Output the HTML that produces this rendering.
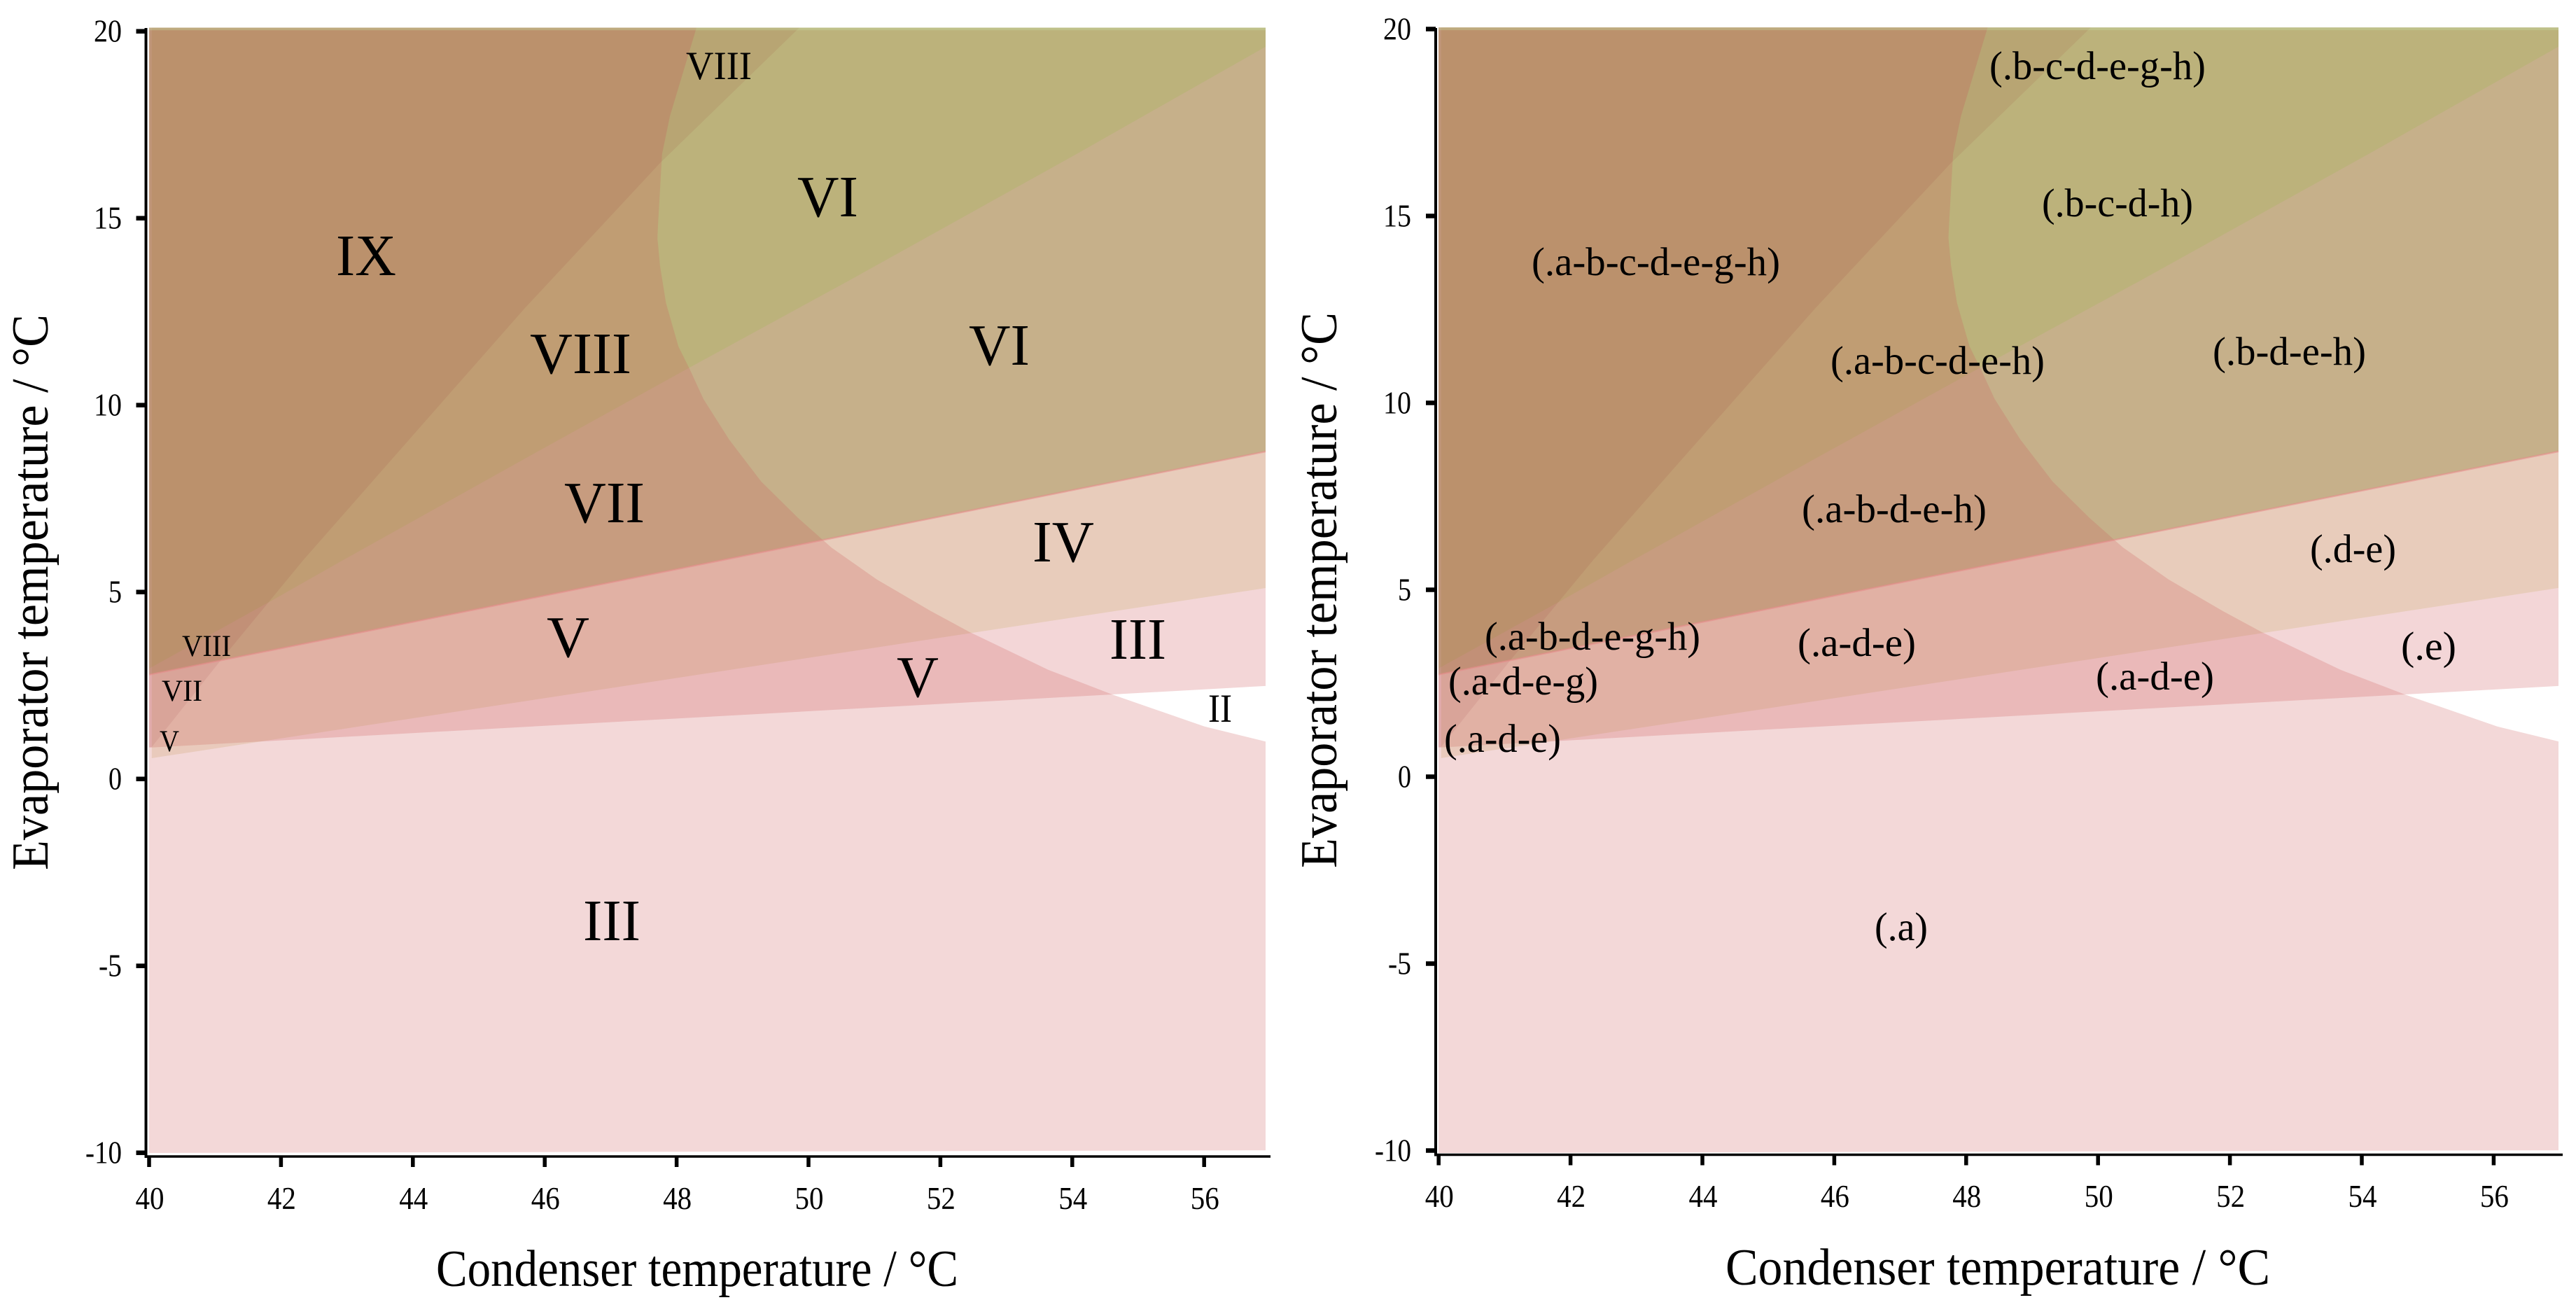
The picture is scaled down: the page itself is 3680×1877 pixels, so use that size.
<!DOCTYPE html>
<html lang="en">
<head>
<meta charset="utf-8">
<title>Evaporator and condenser temperature region maps</title>
<style>
  html,body{margin:0;padding:0;background:#fff;}
  svg{display:block;}
  text{font-family:"Liberation Serif","Times New Roman",serif;fill:#000;}
  .tick-label{font-size:45px;}
  .axis-title{font-size:74px;}
  .big{font-size:84px;}
  .mid{font-size:57px;}
  .small{font-size:43px;}
  .code{font-size:57px;}
  .axis-line{stroke:#000;fill:none;}
  .tick{stroke:#000;}
  .layer-a{fill:#cc5a5c;fill-opacity:.24;}
  .layer-e{fill:#cf5b5f;fill-opacity:.25;}
  .layer-d{fill:#bca54b;fill-opacity:.2;}
  .layer-b{fill:#77721b;fill-opacity:.3;}
  .layer-c{fill:#6cc500;fill-opacity:.1;}
  .layer-g{fill:#942328;fill-opacity:.09;}
  .edge-b{stroke:#e88a8a;stroke-opacity:.55;stroke-width:2.5;fill:none;}
  .top-band{fill:#c8e6aa;fill-opacity:.3;}
</style>
</head>
<body>
<svg xmlns="http://www.w3.org/2000/svg" width="3680" height="1877" viewBox="0 0 3680 1877">
  <rect x="0" y="0" width="3680" height="1877" fill="#fff"/>

  <g id="left-panel">
    <g id="left-marks"></g>
    <g id="left-axes"></g>
    <text class="axis-title" x="623" y="1837" textLength="746" lengthAdjust="spacingAndGlyphs">Condenser temperature / °C</text>
    <text class="axis-title" transform="translate(68,1243) rotate(-90)" x="0" y="0" textLength="794" lengthAdjust="spacingAndGlyphs">Evaporator temperature / °C</text>

    <text class="big" x="480" y="393" textLength="86" lengthAdjust="spacingAndGlyphs">IX</text>
    <text class="big" x="757" y="533" textLength="145" lengthAdjust="spacingAndGlyphs">VIII</text>
    <text class="big" x="1139" y="309" textLength="87" lengthAdjust="spacingAndGlyphs">VI</text>
    <text class="big" x="1384" y="521" textLength="87" lengthAdjust="spacingAndGlyphs">VI</text>
    <text class="big" x="806" y="746" textLength="115" lengthAdjust="spacingAndGlyphs">VII</text>
    <text class="big" x="1475" y="802" textLength="88" lengthAdjust="spacingAndGlyphs">IV</text>
    <text class="big" x="781" y="938" textLength="61" lengthAdjust="spacingAndGlyphs">V</text>
    <text class="big" x="1281" y="995" textLength="60" lengthAdjust="spacingAndGlyphs">V</text>
    <text class="big" x="1585" y="941" textLength="81" lengthAdjust="spacingAndGlyphs">III</text>
    <text class="big" x="833" y="1343" textLength="82" lengthAdjust="spacingAndGlyphs">III</text>
    <text class="mid" x="1726" y="1031" textLength="34" lengthAdjust="spacingAndGlyphs">II</text>
    <text class="mid" x="980" y="113" textLength="94" lengthAdjust="spacingAndGlyphs">VIII</text>
    <text class="small" x="260" y="937" textLength="70" lengthAdjust="spacingAndGlyphs">VIII</text>
    <text class="small" x="231" y="1001" textLength="58" lengthAdjust="spacingAndGlyphs">VII</text>
    <text class="small" x="228" y="1073" textLength="28" lengthAdjust="spacingAndGlyphs">V</text>
  </g>

  <g id="right-panel">
    <g id="right-marks"></g>
    <g id="right-axes"></g>
    <text class="axis-title" x="2465" y="1835" textLength="778" lengthAdjust="spacingAndGlyphs">Condenser temperature / °C</text>
    <text class="axis-title" transform="translate(1909,1240) rotate(-90)" x="0" y="0" textLength="794" lengthAdjust="spacingAndGlyphs">Evaporator temperature / °C</text>

    <text class="code" x="2188" y="393" textLength="355" lengthAdjust="spacingAndGlyphs">(.a-b-c-d-e-g-h)</text>
    <text class="code" x="2615" y="534" textLength="306" lengthAdjust="spacingAndGlyphs">(.a-b-c-d-e-h)</text>
    <text class="code" x="2842" y="113" textLength="309" lengthAdjust="spacingAndGlyphs">(.b-c-d-e-g-h)</text>
    <text class="code" x="2917" y="309" textLength="216" lengthAdjust="spacingAndGlyphs">(.b-c-d-h)</text>
    <text class="code" x="3161" y="521" textLength="219" lengthAdjust="spacingAndGlyphs">(.b-d-e-h)</text>
    <text class="code" x="2574" y="746" textLength="264" lengthAdjust="spacingAndGlyphs">(.a-b-d-e-h)</text>
    <text class="code" x="3300" y="803" textLength="123" lengthAdjust="spacingAndGlyphs">(.d-e)</text>
    <text class="code" x="3430" y="942" textLength="79" lengthAdjust="spacingAndGlyphs">(.e)</text>
    <text class="code" x="2568" y="937" textLength="169" lengthAdjust="spacingAndGlyphs">(.a-d-e)</text>
    <text class="code" x="2994" y="985" textLength="169" lengthAdjust="spacingAndGlyphs">(.a-d-e)</text>
    <text class="code" x="2121" y="928" textLength="308" lengthAdjust="spacingAndGlyphs">(.a-b-d-e-g-h)</text>
    <text class="code" x="2069" y="992" textLength="214" lengthAdjust="spacingAndGlyphs">(.a-d-e-g)</text>
    <text class="code" x="2063" y="1074" textLength="167" lengthAdjust="spacingAndGlyphs">(.a-d-e)</text>
    <text class="code" x="2678" y="1343" textLength="76" lengthAdjust="spacingAndGlyphs">(.a)</text>
  </g>
</svg>

<script>
// Axis tick values
const xTickValues = [40, 42, 44, 46, 48, 50, 52, 54, 56];
const yTickValues = [-10, -5, 0, 5, 10, 15, 20];
const yTickLabels = ['-10', '-5', '0', '5', '10', '15', '20'];
const xTickLabels = ['40', '42', '44', '46', '48', '50', '52', '54', '56'];

// Region boundaries in degrees C (condenser temperature, evaporator temperature)
const boundaryA_x = [57, 56.07, 54.67, 53.69, 52.49, 51.90, 51.08, 50.39, 50.24, 49.88, 49.32, 48.83, 48.44, 48.23, 48.06, 47.87, 47.78, 47.74, 47.75, 47.81, 47.93, 48.335];
const boundaryA_y = [0.97, 1.37, 2.22, 2.88, 3.89, 4.45, 5.29, 6.14, 6.37, 6.93, 7.90, 9.02, 10.10, 10.90, 11.50, 12.66, 13.65, 14.39, 14.77, 16.63, 17.64, 20];
const boundaryE_x = [40, 57];
const boundaryE_y = [0.806, 2.449];
const boundaryD_x = [40.04, 57];
const boundaryD_y = [0.526, 5.06];
const boundaryB_x = [40, 57];
const boundaryB_y = [2.75, 8.70];
const boundaryC_x = [40, 41.88, 42.96, 44.74, 45.72, 48.23, 50.67, 54.12, 57];
const boundaryC_y = [2.915, 4.74, 5.81, 7.55, 8.51, 10.94, 13.27, 16.63, 19.49];
const boundaryG_x = [40.04, 41.06, 42.35, 44.05, 45.72, 47.78, 49.90];
const boundaryG_y = [0.825, 3.07, 5.81, 9.20, 12.52, 16.39, 20];

// Domain of the plotted map
const domainXMin = 40;
const domainXMax = 57;
const domainYMin = -10;
const domainYTop = 20;
const domainYBottomRight = -9.93;
const topBandY = 19.93;

const SVGNS = 'http://www.w3.org/2000/svg';

function makeFillScales(cfg) {
  return {
    x: function (v) { return cfg.fillLeft + (v - domainXMin) * (cfg.fillRight - cfg.fillLeft) / (domainXMax - domainXMin); },
    y: function (v) { return cfg.fillBottom - (v - domainYMin) * (cfg.fillBottom - cfg.fillTop) / (domainYTop - domainYMin); }
  };
}

function pointsFrom(xs, ys, sx, sy) {
  return xs.map(function (x, i) { return sx(x).toFixed(1) + ',' + sy(ys[i]).toFixed(1); });
}

function addLayer(parent, cls, pts, name) {
  const el = document.createElementNS(SVGNS, 'polygon');
  el.setAttribute('class', cls);
  el.setAttribute('points', pts.join(' '));
  
  
  parent.appendChild(el);
}

function drawMarks(parent, cfg) {
  const s = makeFillScales(cfg);
  const fx = s.x, fy = s.y;
  const corner = function (x, y) { return fx(x).toFixed(1) + ',' + fy(y).toFixed(1); };

  addLayer(parent, 'layer-e',
    pointsFrom(boundaryE_x, boundaryE_y, fx, fy)
      .concat([corner(domainXMax, domainYTop), corner(domainXMin, domainYTop)]),
    cfg.prefix + '-region-e');

  addLayer(parent, 'layer-d',
    pointsFrom(boundaryD_x, boundaryD_y, fx, fy)
      .concat([corner(domainXMax, domainYTop), corner(boundaryD_x[0], domainYTop)]),
    cfg.prefix + '-region-d');

  addLayer(parent, 'layer-b',
    pointsFrom(boundaryB_x, boundaryB_y, fx, fy)
      .concat([corner(domainXMax, domainYTop), corner(domainXMin, domainYTop)]),
    cfg.prefix + '-region-b');

  addLayer(parent, 'layer-c',
    pointsFrom(boundaryC_x, boundaryC_y, fx, fy)
      .concat([corner(domainXMax, domainYTop), corner(domainXMin, domainYTop)]),
    cfg.prefix + '-region-c');

  addLayer(parent, 'layer-a',
    [corner(domainXMin, domainYMin), corner(domainXMax, domainYBottomRight)]
      .concat(pointsFrom(boundaryA_x, boundaryA_y, fx, fy))
      .concat([corner(domainXMin, domainYTop)]),
    cfg.prefix + '-region-a');

  addLayer(parent, 'layer-g',
    pointsFrom(boundaryG_x, boundaryG_y, fx, fy)
      .concat([corner(domainXMin, domainYTop), corner(domainXMin, boundaryG_y[0])]),
    cfg.prefix + '-region-g');

  addLayer(parent, 'top-band',
    [corner(domainXMin, domainYTop), corner(domainXMax, domainYTop), corner(domainXMax, topBandY), corner(domainXMin, topBandY)],
    cfg.prefix + '-top-band');

  const edge = document.createElementNS(SVGNS, 'polyline');
  edge.setAttribute('class', 'edge-b');
  edge.setAttribute('points', pointsFrom(boundaryB_x, boundaryB_y, fx, fy).join(' '));
  
  
  parent.appendChild(edge);
}

function addLine(parent, cls, x1, y1, x2, y2, width, name) {
  const el = document.createElementNS(SVGNS, 'line');
  el.setAttribute('class', cls);
  el.setAttribute('x1', x1);
  el.setAttribute('y1', y1);
  el.setAttribute('x2', x2);
  el.setAttribute('y2', y2);
  el.setAttribute('stroke-width', width);
  
  
  parent.appendChild(el);
}

function addTickLabel(parent, str, x, y, anchor, len, name) {
  const el = document.createElementNS(SVGNS, 'text');
  el.setAttribute('class', 'tick-label');
  el.setAttribute('x', x);
  el.setAttribute('y', y);
  el.setAttribute('text-anchor', anchor);
  el.setAttribute('textLength', len);
  el.setAttribute('lengthAdjust', 'spacingAndGlyphs');
  
  
  el.textContent = str;
  parent.appendChild(el);
}

function drawAxes(parent, cfg) {
  const tx = function (v) { return cfg.tickX40 + (v - 40) * cfg.tickXScale; };
  const ty = function (v) { return cfg.tickY0 - v * cfg.tickYScale; };

  addLine(parent, 'axis-line', cfg.axisX, cfg.axisTop, cfg.axisX, cfg.axisY + 2, 4, cfg.prefix + '-y-axis-line');
  addLine(parent, 'axis-line', cfg.axisX - 2, cfg.axisY, cfg.axisRight, cfg.axisY, 3.5, cfg.prefix + '-x-axis-line');

  xTickValues.forEach(function (v, i) {
    addLine(parent, 'tick', tx(v), cfg.axisY, tx(v), cfg.axisY + 15, 5.5, cfg.prefix + '-x-tick-' + xTickLabels[i]);
    addTickLabel(parent, xTickLabels[i], tx(v) + 1, cfg.xLabelY, 'middle', 41, cfg.prefix + '-x-tick-label-' + xTickLabels[i]);
  });

  yTickValues.forEach(function (v, i) {
    const str = yTickLabels[i];
    const len = str.length === 1 ? 19 : (str.length === 2 ? (str.charAt(0) === '-' ? 33 : 40) : 52);
    addLine(parent, 'tick', cfg.axisX - 14, ty(v), cfg.axisX, ty(v), 6.5, cfg.prefix + '-y-tick-' + str);
    addTickLabel(parent, str, cfg.yLabelRight, ty(v) + 15, 'end', len, cfg.prefix + '-y-tick-label-' + str);
  });
}

const leftConfig = {
  prefix: 'left',
  fillLeft: 213, fillRight: 1808, fillTop: 39.5, fillBottom: 1647,
  tickX40: 213, tickXScale: 94.2, tickY0: 1112.7, tickYScale: 53.4,
  axisX: 208.5, axisTop: 40, axisY: 1652, axisRight: 1815,
  xLabelY: 1727, yLabelRight: 174
};
const rightConfig = {
  prefix: 'right',
  fillLeft: 2055, fillRight: 3655, fillTop: 39.3, fillBottom: 1647,
  tickX40: 2055.2, tickXScale: 94.2, tickY0: 1109.5, tickYScale: 53.4,
  axisX: 2051, axisTop: 40, axisY: 1649.5, axisRight: 3661,
  xLabelY: 1724, yLabelRight: 2016
};

drawMarks(document.getElementById('left-marks'), leftConfig);
drawAxes(document.getElementById('left-axes'), leftConfig);
drawMarks(document.getElementById('right-marks'), rightConfig);
drawAxes(document.getElementById('right-axes'), rightConfig);
</script>
</body>
</html>
